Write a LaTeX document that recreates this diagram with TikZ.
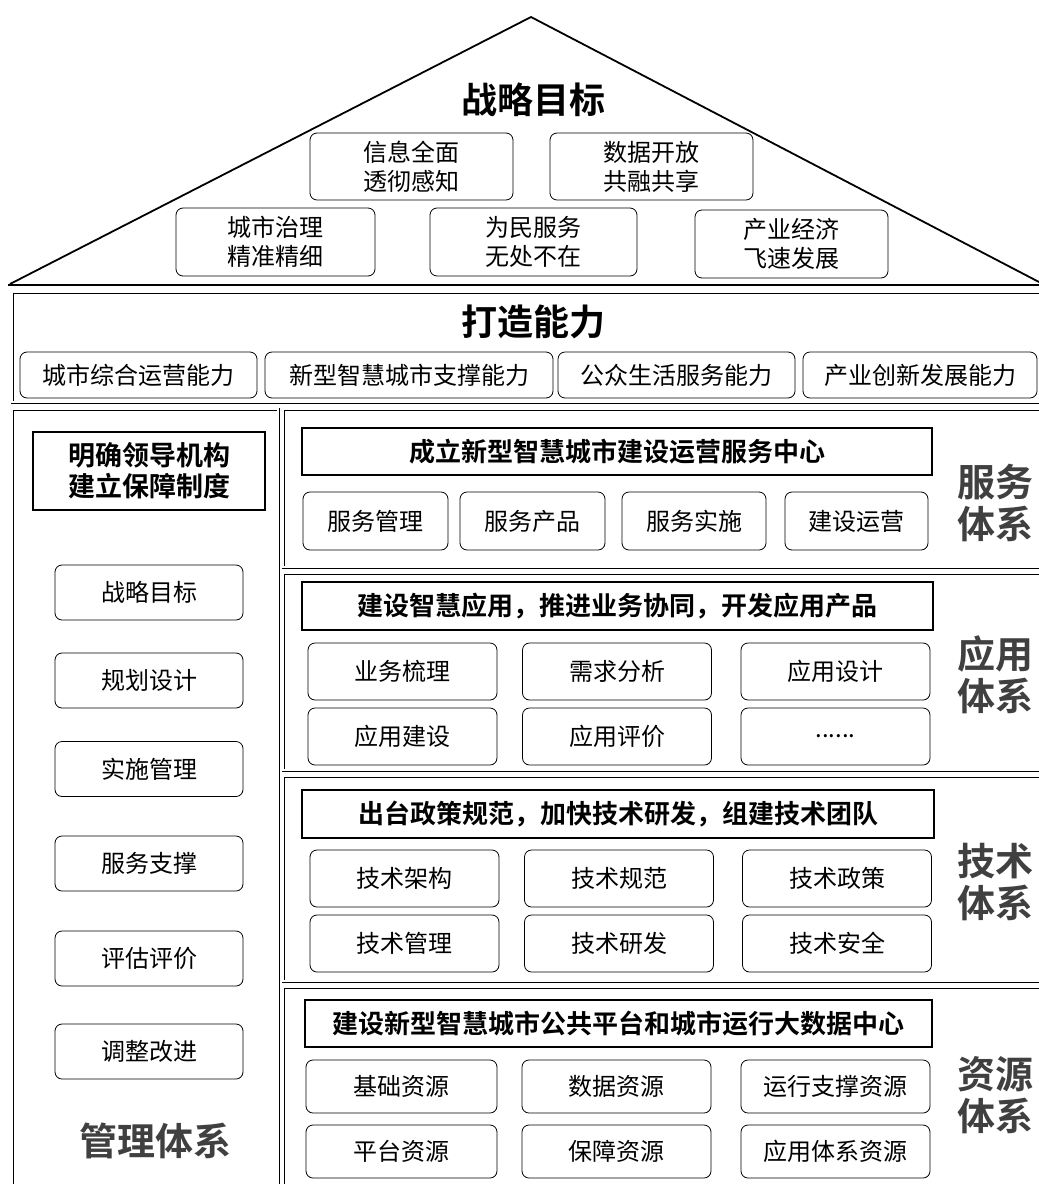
\documentclass[tikz,border=0pt]{standalone}
\usepackage{fontspec}
\setmainfont{Noto Sans CJK SC}[BoldFont={Noto Sans CJK SC Bold}]
\usepackage{tikz}

\begin{document}
\begin{tikzpicture}[x=1pt,y=-1pt,
	rbox/.style={draw, rounded corners=7pt, line width=0.8pt, inner sep=0pt,
		font=\fontsize{24}{29}\selectfont, align=center},
	hbox/.style={draw, line width=1.4pt, inner sep=0pt,
		font=\bfseries\fontsize{26}{31}\selectfont, align=center},
	panel/.style={draw, double, double distance=1.6pt, line width=0.7pt},
	bigtitle/.style={font=\bfseries\fontsize{36}{40}\selectfont},
	sidelabel/.style={font=\bfseries\fontsize{38}{42}\selectfont, text=black!75, align=center}]

	\useasboundingbox (0,0) rectangle (1039,1184);

	\coordinate (l) at (10,284);
	\coordinate (t) at (531,17);
	\coordinate (r) at (1039,282);

	\draw[line width=1.8pt, line join=miter] (l) -- (t) -- (r);
	\draw[line width=1.8pt] (8,285) -- (1045,285);

	\node[bigtitle] (goal) at (533,100) {战略目标};
	\node[rbox, minimum width=203pt, minimum height=67pt] (g1) at (411.5,166.5) {信息全面\\透彻感知};
	\node[rbox, minimum width=203pt, minimum height=67pt] (g2) at (651.5,166.5) {数据开放\\共融共享};
	\node[rbox, minimum width=199pt, minimum height=68pt] (g3) at (275.5,242) {城市治理\\精准精细};
	\node[rbox, minimum width=207pt, minimum height=68pt] (g4) at (533.5,242) {为民服务\\无处不在};
	\node[rbox, minimum width=193pt, minimum height=68pt] (g5) at (791.5,244) {产业经济\\飞速发展};

	\draw[panel] (12,292) rectangle (1045,402);
	\node[bigtitle] (cap) at (533,322) {打造能力};
	\node[rbox, minimum width=237pt, minimum height=46pt] (c1) at (138.5,375) {城市综合运营能力};
	\node[rbox, minimum width=288pt, minimum height=46pt] (c2) at (409,375) {新型智慧城市支撑能力};
	\node[rbox, minimum width=237pt, minimum height=46pt] (c3) at (676.5,375) {公众生活服务能力};
	\node[rbox, minimum width=234pt, minimum height=46pt] (c4) at (920,375) {产业创新发展能力};

	\draw[panel] (12,409) rectangle (278,1195);
	\node[hbox, minimum width=232pt, minimum height=78pt, font=\bfseries\fontsize{27}{31}\selectfont] (lead) at (149,471) {明确领导机构\\建立保障制度};
	\node[rbox, minimum width=188pt, minimum height=55pt] (m1) at (149,592.5) {战略目标};
	\node[rbox, minimum width=188pt, minimum height=55pt] (m2) at (149,680.5) {规划设计};
	\node[rbox, minimum width=188pt, minimum height=55pt] (m3) at (149,769) {实施管理};
	\node[rbox, minimum width=188pt, minimum height=55pt] (m4) at (149,863.5) {服务支撑};
	\node[rbox, minimum width=188pt, minimum height=55pt] (m5) at (149,958.5) {评估评价};
	\node[rbox, minimum width=188pt, minimum height=55pt] (m6) at (149,1051.5) {调整改进};
	\node[sidelabel] (mgmt) at (155,1141) {管理体系};

	\draw[panel] (283,409) rectangle (1045,567);
	\node[hbox, minimum width=630pt, minimum height=47pt] (svc) at (617,451.5) {成立新型智慧城市建设运营服务中心};
	\node[rbox, minimum width=145pt, minimum height=58pt] (s1) at (375.5,521) {服务管理};
	\node[rbox, minimum width=145pt, minimum height=58pt] (s2) at (532.5,521) {服务产品};
	\node[rbox, minimum width=144pt, minimum height=58pt] (s3) at (694,521) {服务实施};
	\node[rbox, minimum width=143pt, minimum height=58pt] (s4) at (856.5,521) {建设运营};
	\node[sidelabel] (svclab) at (995,503) {服务\\体系};

	\draw[panel] (283,573) rectangle (1045,770);
	\node[hbox, minimum width=631pt, minimum height=48pt] (app) at (617.5,606) {建设智慧应用，推进业务协同，开发应用产品};
	\node[rbox, minimum width=189pt, minimum height=57pt] (a1) at (402.5,671.5) {业务梳理};
	\node[rbox, minimum width=189pt, minimum height=57pt] (a2) at (617,671.5) {需求分析};
	\node[rbox, minimum width=189pt, minimum height=57pt] (a3) at (835.5,671.5) {应用设计};
	\node[rbox, minimum width=189pt, minimum height=57pt] (a4) at (402.5,736.5) {应用建设};
	\node[rbox, minimum width=189pt, minimum height=57pt] (a5) at (617,736.5) {应用评价};
	\node[rbox, minimum width=189pt, minimum height=57pt] (a6) at (835.5,736.5) {......};
	\node[sidelabel] (applab) at (995,675) {应用\\体系};

	\draw[panel] (283,776) rectangle (1045,981);
	\node[hbox, minimum width=632pt, minimum height=48pt] (tech) at (618,814) {出台政策规范，加快技术研发，组建技术团队};
	\node[rbox, minimum width=189pt, minimum height=57pt] (t1) at (404.5,878.5) {技术架构};
	\node[rbox, minimum width=189pt, minimum height=57pt] (t2) at (619,878.5) {技术规范};
	\node[rbox, minimum width=189pt, minimum height=57pt] (t3) at (837,878.5) {技术政策};
	\node[rbox, minimum width=189pt, minimum height=57pt] (t4) at (404.5,943.5) {技术管理};
	\node[rbox, minimum width=189pt, minimum height=57pt] (t5) at (619,943.5) {技术研发};
	\node[rbox, minimum width=189pt, minimum height=57pt] (t6) at (837,943.5) {技术安全};
	\node[sidelabel] (techlab) at (995,882) {技术\\体系};

	\draw[panel] (283,987) rectangle (1045,1195);
	\node[hbox, minimum width=627pt, minimum height=47pt] (res) at (618.5,1023.5) {建设新型智慧城市公共平台和城市运行大数据中心};
	\node[rbox, minimum width=191pt, minimum height=53pt] (r1) at (401.5,1086.5) {基础资源};
	\node[rbox, minimum width=189pt, minimum height=53pt] (r2) at (616.5,1086.5) {数据资源};
	\node[rbox, minimum width=189pt, minimum height=53pt] (r3) at (835.5,1086.5) {运行支撑资源};
	\node[rbox, minimum width=191pt, minimum height=53pt] (r4) at (401.5,1151.5) {平台资源};
	\node[rbox, minimum width=189pt, minimum height=53pt] (r5) at (616.5,1151.5) {保障资源};
	\node[rbox, minimum width=189pt, minimum height=53pt] (r6) at (835.5,1151.5) {应用体系资源};
	\node[sidelabel] (reslab) at (995,1095) {资源\\体系};

\end{tikzpicture}
\end{document}
